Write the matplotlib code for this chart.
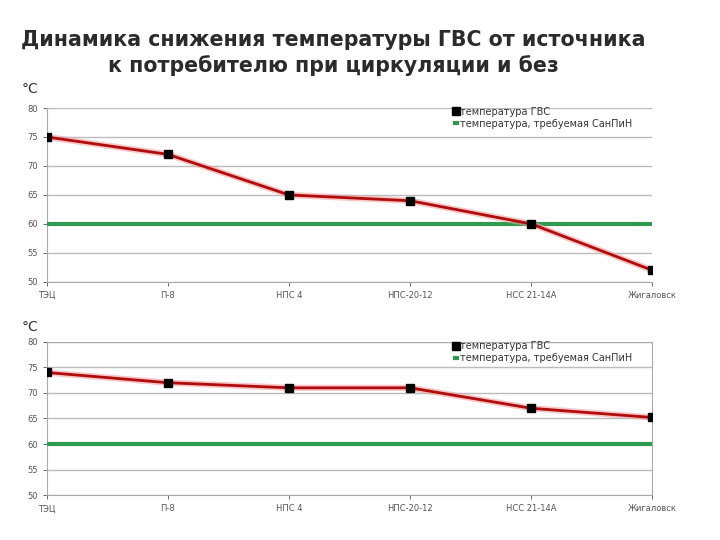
import matplotlib.pyplot as plt

# Данные
stations = ["ТЭЦ", "П-8", "НПС 4", "НПС-20-12", "НСС 21-14А", "Жигаловск"]
temp_no_circ = [75, 72, 65, 64, 60, 52]
temp_circ = [74, 72, 71, 71, 67, 65.2]
sanpin = [60, 60, 60, 60, 60, 60]
y_ticks = [50, 55, 60, 65, 70, 75, 80]

plt.rcParams["font.family"] = ["DejaVu Sans"]

fig = plt.figure(figsize=(7.2, 5.4), dpi=100)
fig.text(0.463, 0.925, "Динамика снижения температуры ГВС от источника",
         ha="center", va="center", fontsize=14.8, fontweight="bold", color="#2b2b2b")
fig.text(0.463, 0.879, "к потребителю при циркуляции и без",
         ha="center", va="center", fontsize=14.8, fontweight="bold", color="#2b2b2b")


def draw_panel(rect, values, box):
    ax = fig.add_axes(rect)
    x = list(range(len(stations)))
    ax.plot(x, sanpin, color="#2E9B4E", lw=3, solid_capstyle="butt", zorder=3,
            label="температура, требуемая СанПиН")
    ax.plot(x, values, color="#F4A0A0", lw=4.5, alpha=0.6, zorder=4)
    ax.plot(x, values, color="#B00C0C", lw=2, zorder=5)
    ax.plot(x, values, ls="none", marker="s", ms=5.5, color="black", zorder=6)
    ax.plot([], [], ls="none", marker="s", ms=5.5, color="black", label="температура ГВС")
    ax.set_xlim(0, len(stations) - 1)
    ax.set_ylim(50, 80)
    ax.set_yticks(y_ticks)
    ax.set_xticks(x)
    ax.set_xticklabels(stations)
    ax.tick_params(labelsize=6, colors="#555555", length=3, width=0.6)
    ax.grid(axis="y", color="#BBBBBB", lw=1)
    for s in ["top", "right"]:
        ax.spines[s].set_visible(box)
    for s in ax.spines.values():
        s.set_color("#AAAAAA")
        s.set_linewidth(0.8)
    handles, labels = ax.get_legend_handles_labels()
    ax.legend(handles[::-1], labels[::-1], loc="upper left", bbox_to_anchor=(0.665, 1.03),
              frameon=False, fontsize=7, handlelength=0.6, handletextpad=0.1,
              labelspacing=0.2, borderaxespad=0, labelcolor="#333333")
    return ax


ax1 = draw_panel([0.065, 0.478, 0.841, 0.322], temp_no_circ, False)
ax2 = draw_panel([0.065, 0.083, 0.841, 0.284], temp_circ, True)

fig.text(0.03, 0.835, "°C", fontsize=10, color="#333333", va="center", ha="left")
fig.text(0.03, 0.395, "°C", fontsize=10, color="#333333", va="center", ha="left")

fig.savefig("out.png", dpi=100)
